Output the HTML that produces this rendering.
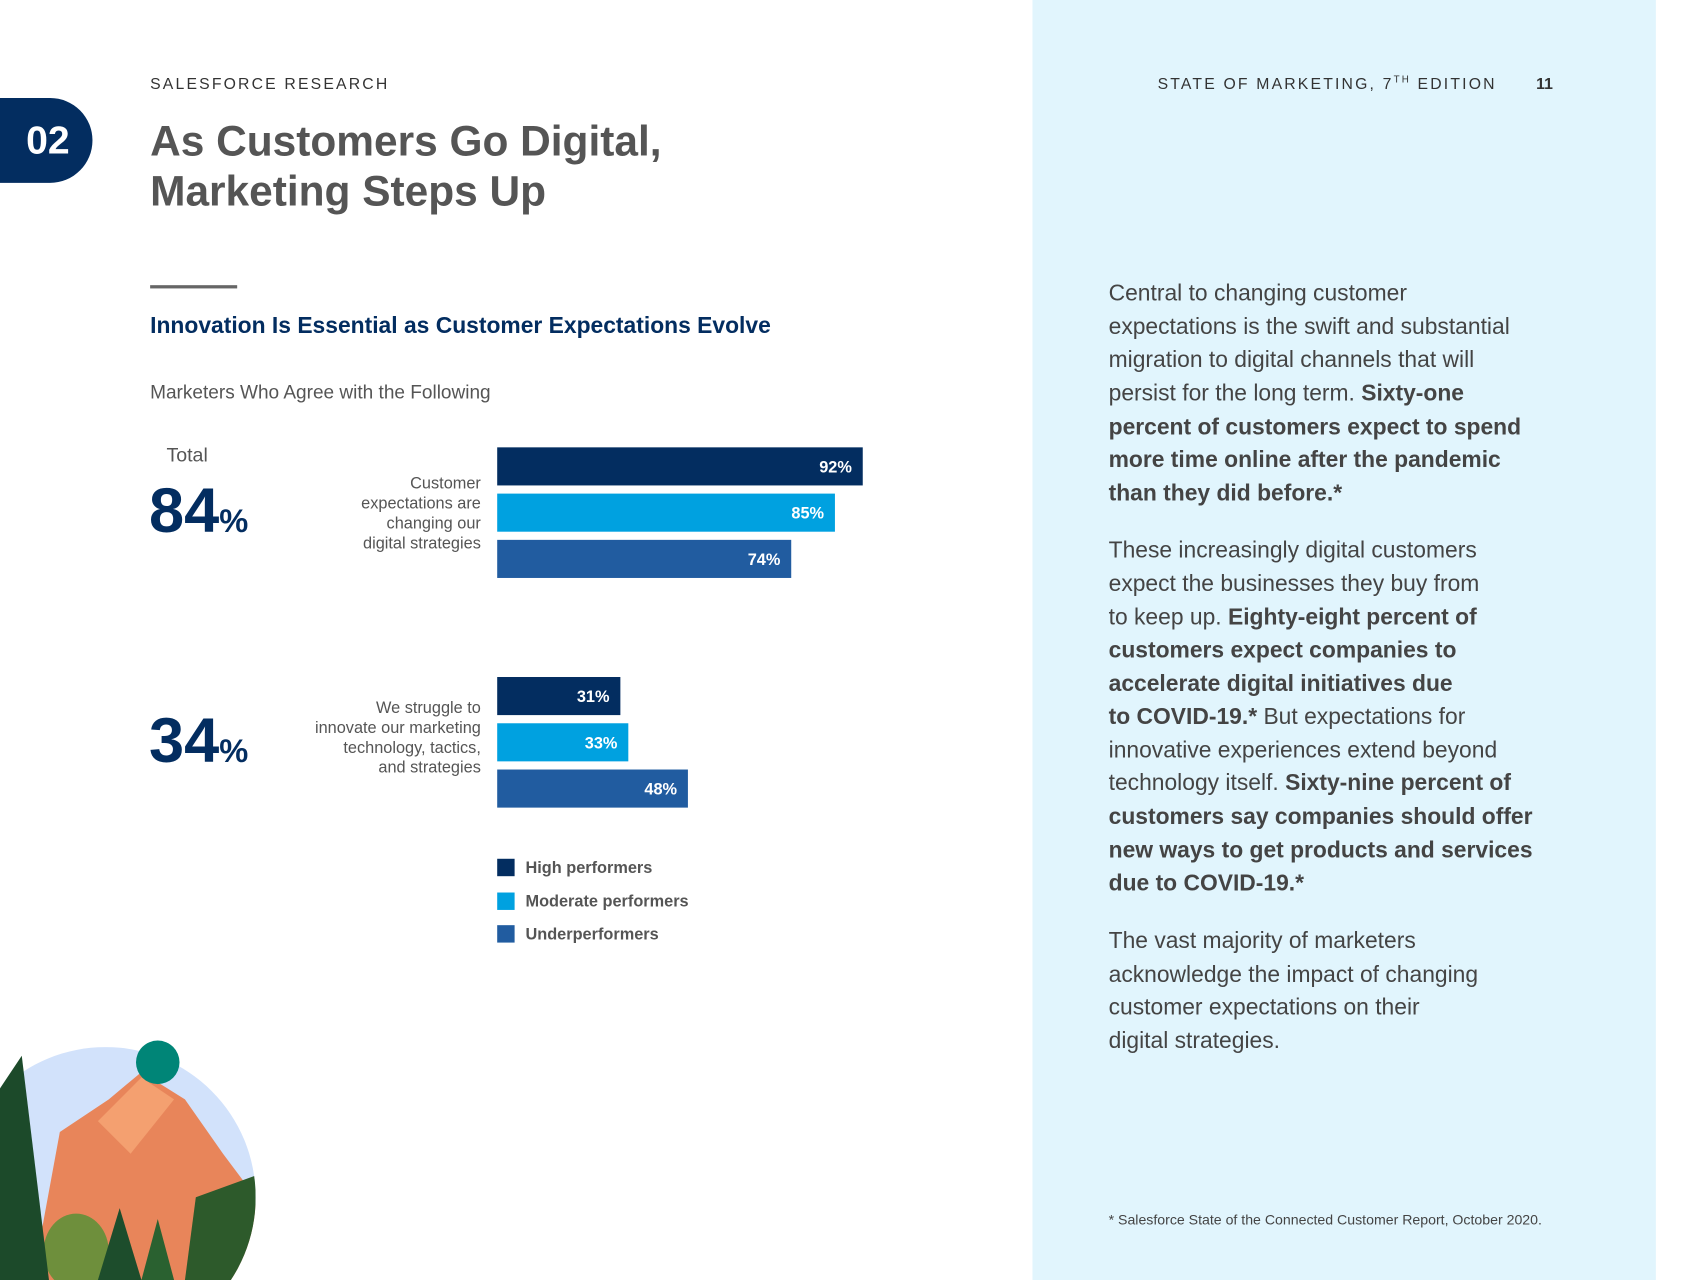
<!DOCTYPE html>
<html><head><meta charset="utf-8"><style>
html,body{margin:0;padding:0;background:#fff;width:1707px;height:1280px;overflow:hidden;}
svg{display:block;font-family:"Liberation Sans",sans-serif;}
</style></head><body>
<svg id="page" width="1707" height="1280" viewBox="0 0 1569 1176" preserveAspectRatio="none">
<rect x="949" y="0" width="573" height="1176" fill="#e1f5fd"/>
<text x="138" y="82" font-size="14.5" letter-spacing="2" fill="#333">SALESFORCE RESEARCH</text>
<text x="1064" y="82" font-size="14.5" letter-spacing="2" fill="#333">STATE OF MARKETING, 7<tspan font-size="9" dy="-6">TH</tspan><tspan dy="6"> EDITION</tspan></text>
<text x="1412" y="82" font-size="14.5" font-weight="bold" fill="#333">11</text>
<path d="M0 90 H46 A39 39 0 0 1 46 168 H0 Z" fill="#032d60"/>
<text x="24" y="141" font-size="36" font-weight="bold" fill="#fff">02</text>
<text x="138" y="143" font-size="39" font-weight="bold" fill="#555">As Customers Go Digital,</text>
<text x="138" y="189" font-size="39" font-weight="bold" fill="#555">Marketing Steps Up</text>
<rect x="138" y="262" width="80" height="3" fill="#666"/>
<text x="138" y="306" font-size="21" font-weight="bold" fill="#032d60">Innovation Is Essential as Customer Expectations Evolve</text>
<text x="138" y="366" font-size="17.5" fill="#555">Marketers Who Agree with the Following</text>
<text x="153" y="424" font-size="18" fill="#555">Total</text>
<g id="chart"></g>
<g font-size="15" fill="#444">
<rect x="457" y="789" width="16" height="16" fill="#032d60"/>
<text x="483" y="802" font-weight="bold" fill="#555">High performers</text>
<rect x="457" y="820" width="16" height="16" fill="#00a1e0"/>
<text x="483" y="833" font-weight="bold" fill="#555">Moderate performers</text>
<rect x="457" y="850" width="16" height="16" fill="#215ca0"/>
<text x="483" y="863" font-weight="bold" fill="#555">Underperformers</text>
</g>
<g font-size="21" fill="#444">
<text x="1019" y="276">Central to changing customer</text>
<text x="1019" y="307">expectations is the swift and substantial</text>
<text x="1019" y="337">migration to digital channels that will</text>
<text x="1019" y="368">persist for the long term. <tspan font-weight="bold">Sixty-one</tspan></text>
<text x="1019" y="399" font-weight="bold">percent of customers expect to spend</text>
<text x="1019" y="429" font-weight="bold">more time online after the pandemic</text>
<text x="1019" y="460" font-weight="bold">than they did before.*</text>
<text x="1019" y="512">These increasingly digital customers</text>
<text x="1019" y="543">expect the businesses they buy from</text>
<text x="1019" y="574">to keep up. <tspan font-weight="bold">Eighty-eight percent of</tspan></text>
<text x="1019" y="604" font-weight="bold">customers expect companies to</text>
<text x="1019" y="635" font-weight="bold">accelerate digital initiatives due</text>
<text x="1019" y="665"><tspan font-weight="bold">to COVID-19.*</tspan> But expectations for</text>
<text x="1019" y="696">innovative experiences extend beyond</text>
<text x="1019" y="726">technology itself. <tspan font-weight="bold">Sixty-nine percent of</tspan></text>
<text x="1019" y="757" font-weight="bold">customers say companies should offer</text>
<text x="1019" y="788" font-weight="bold">new ways to get products and services</text>
<text x="1019" y="818" font-weight="bold">due to COVID-19.*</text>
<text x="1019" y="871">The vast majority of marketers</text>
<text x="1019" y="902">acknowledge the impact of changing</text>
<text x="1019" y="932">customer expectations on their</text>
<text x="1019" y="963">digital strategies.</text>
</g>
<text x="1019" y="1125" font-size="13" fill="#444">* Salesforce State of the Connected Customer Report, October 2020.</text>
<g>
<clipPath id="cc"><circle cx="97" cy="1100" r="138"/><rect x="0" y="960" width="40" height="216"/></clipPath>
<circle cx="97" cy="1100" r="138" fill="#d2e2fb"/>
<g clip-path="url(#cc)">
<path d="M30 1176 L55 1040 L100 1010 L130 985 L170 1010 L205 1060 L235 1100 L235 1176 Z" fill="#e8855a"/>
<path d="M90 1030 L130 990 L160 1010 L120 1060 Z" fill="#f4a070"/>
<path d="M180 1100 L235 1080 L235 1176 L170 1176 Z" fill="#2d5a2b"/>
<ellipse cx="70" cy="1150" rx="30" ry="35" fill="#6e8f3c"/>
<path d="M0 1176 L0 1000 L20 970 L45 1176 Z" fill="#1c4a2a"/>
<path d="M90 1176 L110 1110 L130 1176 Z" fill="#1d4d2c"/>
<path d="M130 1176 L145 1120 L160 1176 Z" fill="#2a6130"/>
</g>
<circle cx="145" cy="976" r="20" fill="#008577"/>
</g>
</svg>
<script>
const categories = ["Customer expectations are changing our digital strategies", "We struggle to innovate our marketing technology, tactics, and strategies"];
const totals = [84, 34];
const highPerformers = [92, 31];
const moderatePerformers = [85, 33];
const underperformers = [74, 48];
const labelLines = [["Customer","expectations are","changing our","digital strategies"],["We struggle to","innovate our marketing","technology, tactics,","and strategies"]];

const NS = "http://www.w3.org/2000/svg";
const chart = document.getElementById("chart");
const x0 = 457, pxPer = 336 / 92;
function xLen(v){ return v * pxPer; }
const groupTop = [411, 622];
function rowY(g, s){ return groupTop[g] + s * 42.5; }
const series = [
  {vals: highPerformers, color: "#032d60", name: "high"},
  {vals: moderatePerformers, color: "#00a1e0", name: "moderate"},
  {vals: underperformers, color: "#215ca0", name: "under"}
];
function mk(tag, attrs){ const e = document.createElementNS(NS, tag); for (const k in attrs) e.setAttribute(k, attrs[k]); return e; }
categories.forEach((c, g) => {
  const mid = groupTop[g] + 60;
  const big = mk("text", {x: 137, y: mid + 18, "font-size": 58, "font-weight": "bold", fill: "#032d60"});
  
  
  big.textContent = totals[g];
  const pct = mk("tspan", {"font-size": 30});
  pct.textContent = "%";
  big.appendChild(pct);
  chart.appendChild(big);
  const lines = labelLines[g];
  lines.forEach((ln, i) => {
    const t = mk("text", {x: 442, y: groupTop[g] + 38 + i * 18.3 - (g === 1 ? 5 : 0), "font-size": 15, fill: "#555", "text-anchor": "end"});
    
    
    t.textContent = ln;
    chart.appendChild(t);
  });
  series.forEach((s, si) => {
    const v = s.vals[g];
    const y = rowY(g, si);
    const r = mk("rect", {x: x0, y: y, width: xLen(v), height: 35, fill: s.color});
    
    
    chart.appendChild(r);
    const t = mk("text", {x: x0 + xLen(v) - 10, y: y + 23, "font-size": 15, "font-weight": "bold", fill: "#fff", "text-anchor": "end"});
    
    
    t.textContent = v + "%";
    chart.appendChild(t);
  });
});
</script>
</body></html>
